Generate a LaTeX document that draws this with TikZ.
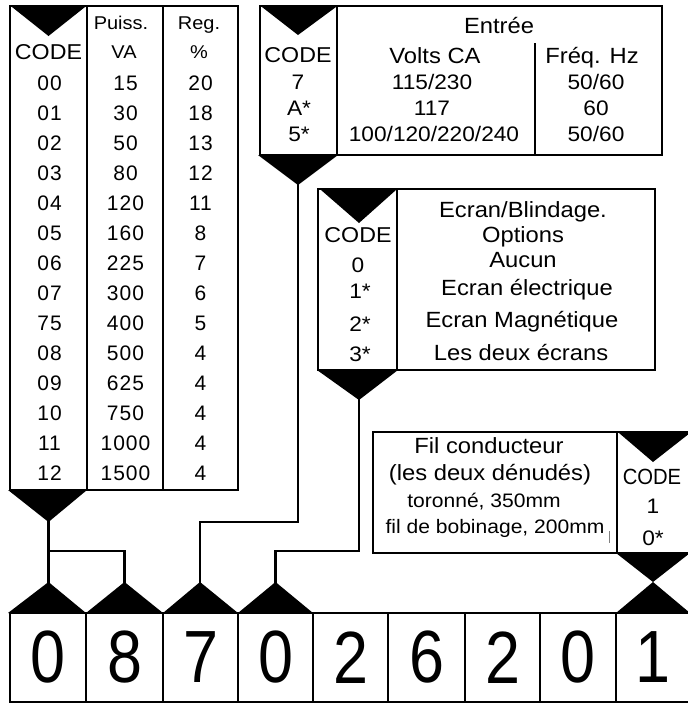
\documentclass[tikz,border=0pt]{standalone}
\usepackage{fontspec}
\setmainfont[FakeStretch=1.08]{Liberation Sans}
\newfontfamily\numfont[LetterSpace=5]{Liberation Sans}
\newfontfamily\bigdig[FakeStretch=0.85]{Liberation Sans}
\newfontfamily\narrowf[FakeStretch=0.92]{Liberation Sans}
\begin{document}
\begin{tikzpicture}[x=1pt,y=-1pt,line width=2.5pt,line join=miter,
  lbl/.style={anchor=base,inner sep=0pt},
  hd/.style={lbl,font=\fontsize{18.5}{20}\selectfont},
  cd/.style={lbl,font=\fontsize{21.5}{24}\selectfont},
  nm/.style={lbl,font=\numfont\fontsize{21}{24}\selectfont},
  tx/.style={lbl,font=\fontsize{22}{24}\selectfont},
  tv/.style={lbl,font=\fontsize{21}{24}\selectfont},
  sm/.style={lbl,font=\fontsize{19.5}{22}\selectfont},
  dbox/.style={draw,inner sep=0pt,minimum height=89pt,font=\bigdig\fontsize{74}{80}\selectfont},
  conn/.style={draw,line width=2.5pt},
  tri/.style={fill=black,draw=none}]
\useasboundingbox (0,0) rectangle (688,705);

% ---------- Left table: Puissance ----------
\draw (10,6) rectangle (238,490);
\draw (87,6) -- (87,490);
\draw (163,6) -- (163,490);
\fill[tri] (12,7) -- (85,7) -- (48.5,36) -- cycle;
\fill[tri] (8,490) -- (87,490) -- (48.5,522) -- cycle;
\node[hd] (hpuiss) at (121,29) {Puiss.};
\node[hd] (hreg) at (199,29) {Reg.};
\node[cd] (pcode) at (48.5,59) {CODE};
\node[hd] (hva) at (124,58) {VA};
\node[hd] (hpct) at (199,58) {\%};
\foreach \c/\v/\r [count=\i from 0] in {00/15/20,01/30/18,02/50/13,03/80/12,04/120/11,05/160/8,06/225/7,07/300/6,75/400/5,08/500/4,09/625/4,10/750/4,11/1000/4,12/1500/4}{
  \node[nm] (pc\i) at (49.5,90+30*\i) {\c};
  \node[nm] (pv\i) at (125.5,90+30*\i) {\v};
  \node[nm] (pr\i) at (200.5,90+30*\i) {\r};
}

% ---------- Entree table ----------
\draw (260,6) rectangle (662,155);
\draw (337,6) -- (337,155);
\draw (535,43) -- (535,155);
\fill[tri] (262,7) -- (336,7) -- (298,35) -- cycle;
\fill[tri] (258,155) -- (338,155) -- (298,185) -- cycle;
\node[tx] (entree) at (499,33) {Entrée};
\node[cd] (ecode) at (298,62.7) {CODE};
\node[tx] (volts) at (435,63) {Volts CA};
\node[tx] (freq) at (592,63) {Fréq. Hz};
\node[tv] (e1c) at (298,89.5) {7};
\node[tv] (e1v) at (432,89.5) {115/230};
\node[tv] (e1f) at (596,89.5) {50/60};
\node[tv] (e2c) at (299,115) {A*};
\node[tv] (e2v) at (432,115) {117};
\node[tv] (e2f) at (596,115) {60};
\node[tv] (e3c) at (299,141) {5*};
\node[tv] (e3v) at (434,141) {100/120/220/240};
\node[tv] (e3f) at (596,141) {50/60};

% ---------- Ecran table ----------
\draw (318,189) rectangle (655,370);
\draw (397,189) -- (397,370);
\fill[tri] (321,190) -- (396,190) -- (359,223) -- cycle;
\fill[tri] (317,370) -- (398,370) -- (359,400) -- cycle;
\node[cd] (scode) at (358,242.7) {CODE};
\node[tx] (s1) at (523,217) {Ecran/Blindage.};
\node[tx] (s2) at (523,242) {Options};
\node[tx] (s3) at (523,267) {Aucun};
\node[tx] (s4) at (527,295) {Ecran électrique};
\node[tx] (s5) at (522,327) {Ecran Magnétique};
\node[tx] (s6) at (521,360) {Les deux écrans};
\node[tv] (sc0) at (358,272.5) {0};
\node[tv] (sc1) at (360,298) {1*};
\node[tv] (sc2) at (360,331) {2*};
\node[tv] (sc3) at (360,361.5) {3*};

% ---------- Fil conducteur table ----------
\draw (373,432) rectangle (690,553);
\draw (617,432) -- (617,553);
\fill[tri] (619,433) -- (690,433) -- (653,462) -- cycle;
\fill[tri] (616,553) -- (690,553) -- (653,582) -- cycle;
\node[tx] (f1) at (489,453) {Fil conducteur};
\node[tx] (f2) at (490,480) {(les deux dénudés)};
\node[sm] (f3) at (484,507) {toronné, 350mm};
\node[sm] (f4) at (495,533) {fil de bobinage, 200mm};
\draw[line width=0.6pt,gray] (609,531) -- (609,543);
\node[lbl,font=\narrowf\fontsize{22}{24}\selectfont] (fcode) at (652,484) {CODE};
\node[tv] (fc1) at (653,513) {1};
\node[tv] (fc0) at (653,545) {0*};

% ---------- Digit boxes ----------
\foreach \d/\l/\r [count=\i] in {0/10/86,8/86/163,7/163/238,0/238/313,2/313/388,6/388/465,2/465/540,0/540/616,1/616/690}{
  \node[dbox,minimum width={\r pt-\l pt}] (d\i) at ({(\l+\r)/2},657.5) {\d};
}
\fill[tri] (8,613) -- (86,613) -- (48.5,582) -- cycle;
\fill[tri] (86,613) -- (163,613) -- (124.5,582) -- cycle;
\fill[tri] (163,613) -- (238,613) -- (200,582) -- cycle;
\fill[tri] (238,613) -- (313,613) -- (275.5,582) -- cycle;
\fill[tri] (616,613) -- (690,613) -- (653,582) -- cycle;

% ---------- Connectors ----------
\coordinate (pOut) at (48.5,521);
\coordinate (pJ) at (48.5,551);
\coordinate (eOut) at (298,184);
\coordinate (eJ) at (298,522);
\coordinate (sOut) at (359,399);
\coordinate (sJ) at (359,551);
\coordinate (d1in) at (48.5,583);
\coordinate (d2in) at (124.5,583);
\coordinate (d3in) at (200,583);
\coordinate (d4in) at (275.5,583);
\draw[conn] (pOut) -- (d1in);
\draw[conn] (pJ) -| (d2in);
\draw[conn] (eOut) -- (eJ) -| (d3in);
\draw[conn] (sOut) -- (sJ) -| (d4in);
\end{tikzpicture}
\end{document}
